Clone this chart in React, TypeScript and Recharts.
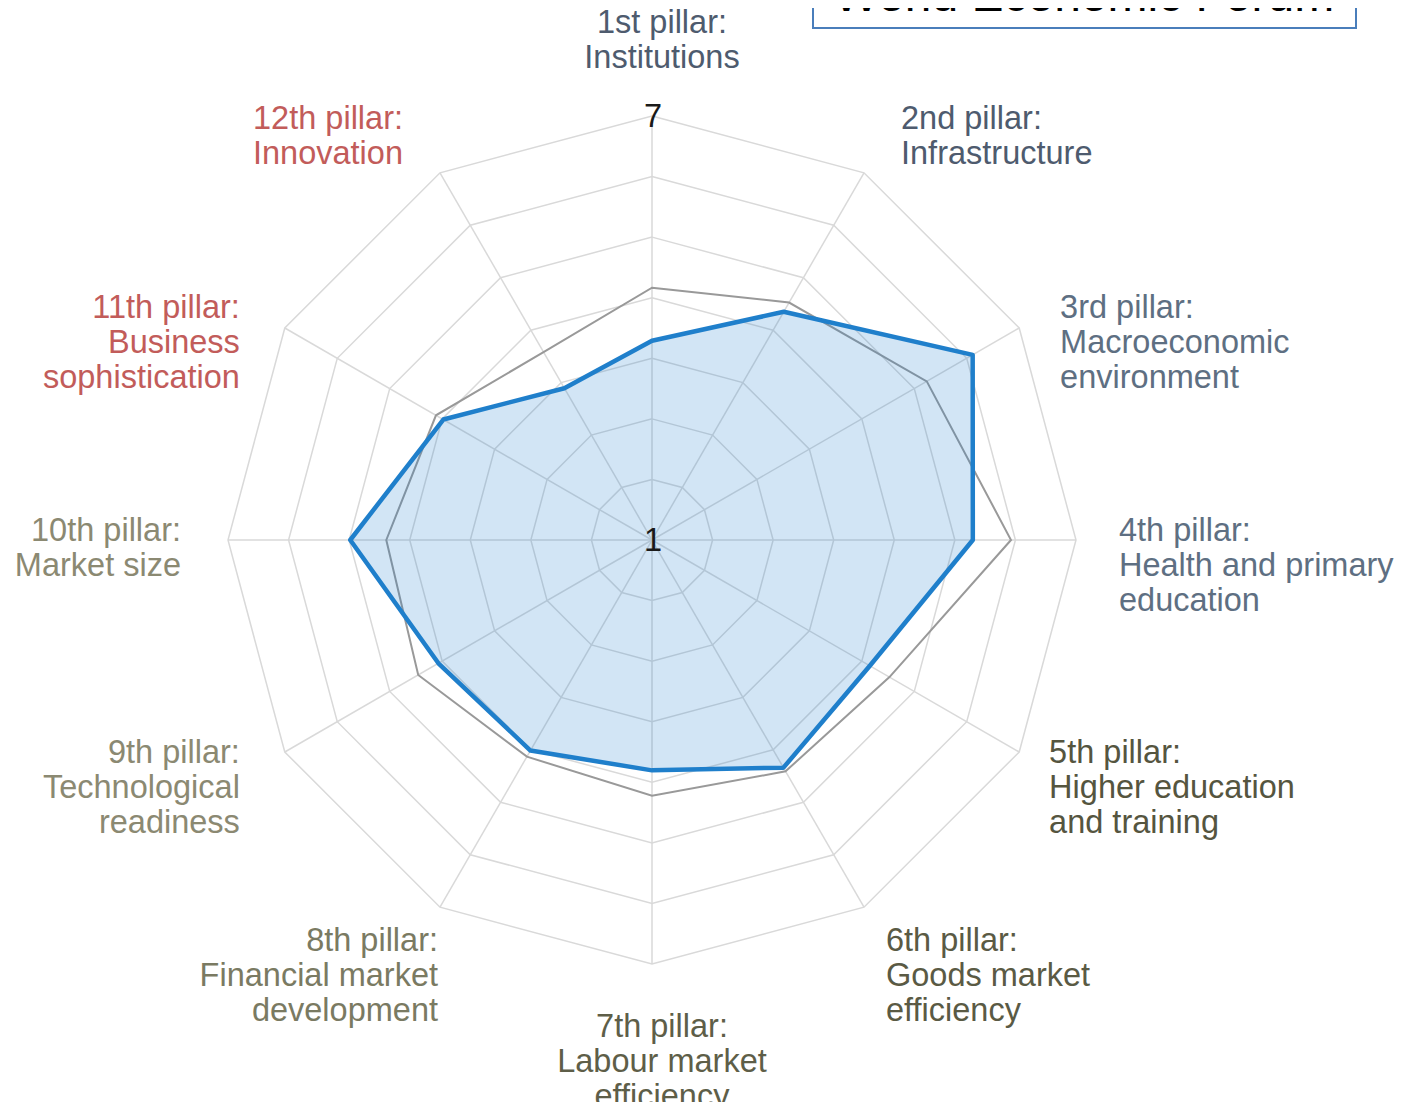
import React from 'react';
import { RadarChart, Radar, PolarGrid, PolarAngleAxis, PolarRadiusAxis } from 'recharts';

// ---- data ----
const categories = [
  '1st pillar: Institutions',
  '2nd pillar: Infrastructure',
  '3rd pillar: Macroeconomic environment',
  '4th pillar: Health and primary education',
  '5th pillar: Higher education and training',
  '6th pillar: Goods market efficiency',
  '7th pillar: Labour market efficiency',
  '8th pillar: Financial market development',
  '9th pillar: Technological readiness',
  '10th pillar: Market size',
  '11th pillar: Business sophistication',
  '12th pillar: Innovation',
];

const tickLabelLines = [
  ['1st pillar:', 'Institutions'],
  ['2nd pillar:', 'Infrastructure'],
  ['3rd pillar:', 'Macroeconomic', 'environment'],
  ['4th pillar:', 'Health and primary', 'education'],
  ['5th pillar:', 'Higher education', 'and training'],
  ['6th pillar:', 'Goods market', 'efficiency'],
  ['7th pillar:', 'Labour market', 'efficiency'],
  ['8th pillar:', 'Financial market', 'development'],
  ['9th pillar:', 'Technological', 'readiness'],
  ['10th pillar:', 'Market size'],
  ['11th pillar:', 'Business', 'sophistication'],
  ['12th pillar:', 'Innovation'],
];

const economyScores = [3.82, 4.73, 6.24, 5.54, 4.56, 4.72, 4.26, 4.44, 4.49, 5.27, 4.41, 3.48];
const comparisonScores = [4.57, 4.88, 5.49, 6.08, 4.88, 4.78, 4.62, 4.54, 4.82, 4.76, 4.53, 4.07];

const scaleMin = 1;
const scaleMax = 7;
const shownScaleTicks = [1, 7];
const titleText = 'World Economic Forum';

// ---- layout / style ----
const W = 1407;
const H = 1110;
const CX = 652;
const CY = 540;
const OUTER_R = 424;
const GRID_STEPS = 7;
const FONT = '"Liberation Sans", Arial, sans-serif';
const FONT_SIZE = 32.5;
const LINE_H = 35;

const labelLayout = [
  { anchor: 'middle', dx: 10, dy: -75, color: '#4e5b6e' },
  { anchor: 'start', dx: 33, dy: -37, color: '#4e5b6e' },
  { anchor: 'start', dx: 34, dy: -6, color: '#5e6f82' },
  { anchor: 'start', dx: 35, dy: 1, color: '#5e6f82' },
  { anchor: 'start', dx: 23, dy: 7, color: '#55553f' },
  { anchor: 'start', dx: 18, dy: 37, color: '#5a5a44' },
  { anchor: 'middle', dx: 10, dy: 65, color: '#5e5e48' },
  { anchor: 'end', dx: 2, dy: 37, color: '#7a7a62' },
  { anchor: 'end', dx: -38, dy: 7, color: '#8b8972' },
  { anchor: 'end', dx: -39, dy: 1, color: '#8b8972' },
  { anchor: 'end', dx: -38, dy: -6, color: '#c25c5a' },
  { anchor: 'end', dx: -33, dy: -37, color: '#c25c5a' },
];

const chartData = categories.map((c, i) => ({
  pillar: c,
  economy: economyScores[i],
  comparison: comparisonScores[i],
}));

const gridRadii = Array.from({ length: GRID_STEPS }, (_, i) => (OUTER_R * (i + 1)) / GRID_STEPS);

const AngleTick = (props: any) => {
  const { x, y, payload } = props;
  const idx = payload && payload.index != null ? payload.index : props.index;
  const lines = tickLabelLines[idx] || [String(payload.value)];
  const lay = labelLayout[idx];
  return (
    <text
      x={x + lay.dx}
      y={y + lay.dy}
      textAnchor={lay.anchor}
      fill={lay.color}
      fontFamily={FONT}
      fontSize={FONT_SIZE}
    >
      {lines.map((l: string, j: number) => (
        <tspan key={j} x={x + lay.dx} y={y + lay.dy + j * LINE_H}>
          {l}
        </tspan>
      ))}
    </text>
  );
};

const RadiusTick = (props: any) => {
  const { x, y, payload } = props;
  if (!shownScaleTicks.includes(payload.value)) return <g />;
  return (
    <text
      x={x + 1}
      y={y}
      textAnchor="middle"
      dominantBaseline="central"
      fill="#1a1a1a"
      fontFamily={FONT}
      fontSize={FONT_SIZE}
    >
      {payload.value}
    </text>
  );
};

export default function App() {
  return (
    <div style={{ position: 'relative', width: W, height: H, margin: -8, overflow: 'hidden', background: '#fff' }}>
      <RadarChart
        width={W}
        height={H}
        data={chartData}
        cx={CX}
        cy={CY}
        outerRadius={OUTER_R}
        startAngle={90}
        endAngle={-270}
        margin={{ top: 0, right: 0, bottom: 0, left: 0 }}
      >
        <PolarGrid gridType="polygon" polarRadius={gridRadii} stroke="#d9d9d9" strokeWidth={1.5} />
        <PolarAngleAxis dataKey="pillar" tick={<AngleTick />} tickLine={false} axisLine={false} />
        <PolarRadiusAxis
          angle={90}
          domain={[scaleMin, scaleMax]}
          tickCount={7}
          axisLine={false}
          tickLine={false}
          tick={<RadiusTick />}
        />
        <Radar
          name="Comparison"
          dataKey="comparison"
          stroke="#999999"
          strokeWidth={2}
          fill="none"
          fillOpacity={0}
          dot={false}
          isAnimationActive={false}
        />
        <Radar
          name="Economy"
          dataKey="economy"
          stroke="#1f7fcb"
          strokeWidth={4.5}
          strokeLinejoin="round"
          fill="#1f7fcb"
          fillOpacity={0.2}
          dot={false}
          isAnimationActive={false}
        />
      </RadarChart>
      <svg width={W} height={60} style={{ position: 'absolute', left: 0, top: 0 }}>
        <rect x={813} y={-10} width={543} height={38} fill="none" stroke="#4a7ebb" strokeWidth={2} />
        <text x={1084} y={11} textAnchor="middle" fontFamily={FONT} fontSize={48} fill="#000">
          {titleText}
        </text>
      </svg>
    </div>
  );
}
